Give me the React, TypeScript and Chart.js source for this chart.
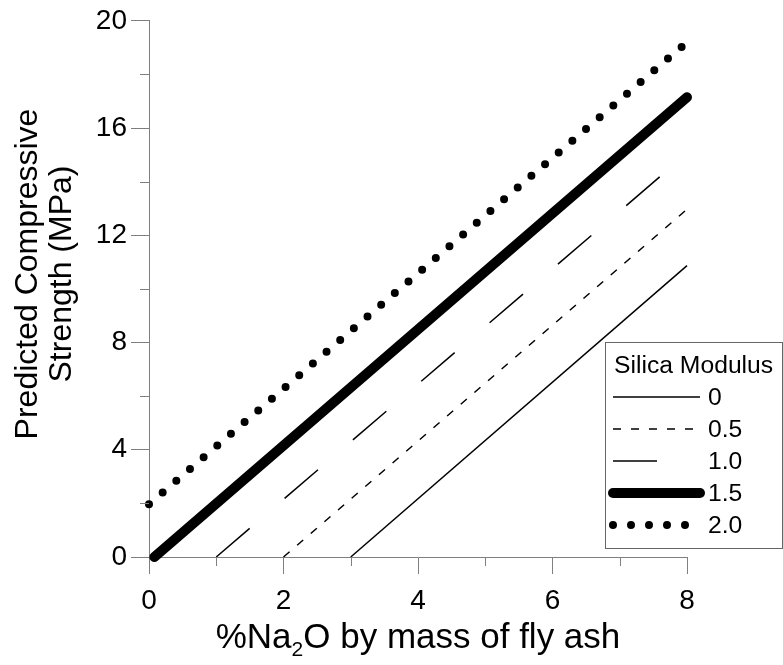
import React, { useEffect, useRef } from "react";
import { Chart, registerables } from "chart.js";

Chart.register(...registerables);

// Silica modulus series and the straight prediction lines for each
const modulusLabels = ["0", "0.5", "1.0", "1.5", "2.0"];
const naStart = [3, 2, 1, 0.08, 0];
const naEnd = [8, 8, 8, 8, 8];
const strengthStart = [0, 0, 0, 0, 1.97];
const strengthEnd = [10.87, 12.97, 15.05, 17.15, 19.2];

// Axis ticks
const xMajorTicks = [0, 2, 4, 6, 8];
const xMinorTicks = [1, 3, 5, 7];
const yMajorTicks = [0, 4, 8, 12, 16, 20];
const yMinorTicks = [2, 6, 10, 14, 18];

const yTitleLines = ["Predicted Compressive", "Strength (MPa)"];
const legendTitle = "Silica Modulus";

const FONT = "'Liberation Sans', Arial, sans-serif";
const AXIS_GRAY = "#7f7f7f";

const lineWidths = [1.5, 1.5, 1.5, 10, 8];
const lineDashes: number[][] = [[], [8, 10], [44, 46], [], [0, 18]];
const lineCaps: CanvasLineCap[] = ["butt", "butt", "butt", "round", "round"];

const minorTicksPlugin = {
  id: "minorTicks",
  afterDraw(chart: any) {
    const { ctx, chartArea, scales } = chart;
    ctx.save();
    ctx.strokeStyle = AXIS_GRAY;
    ctx.lineWidth = 1;
    ctx.beginPath();
    for (const v of xMinorTicks) {
      const px = Math.round(scales.x.getPixelForValue(v)) + 0.5;
      ctx.moveTo(px, chartArea.bottom);
      ctx.lineTo(px, chartArea.bottom + 9);
    }
    for (const v of yMinorTicks) {
      const py = Math.round(scales.y.getPixelForValue(v)) + 0.5;
      ctx.moveTo(chartArea.left, py);
      ctx.lineTo(chartArea.left - 9, py);
    }
    ctx.stroke();
    ctx.restore();
  },
};

// Axis titles: the x title carries a subscript, the y title sits in two rotated lines
const axisTitlesPlugin = {
  id: "axisTitles",
  afterDraw(chart: any) {
    const { ctx, chartArea } = chart;
    const big = `35px ${FONT}`;
    const small = `21px ${FONT}`;
    const parts = [
      { t: "%Na", f: big, dy: 0 },
      { t: "2", f: small, dy: 8 },
      { t: "O by mass of fly ash", f: big, dy: 0 },
    ];
    ctx.save();
    let total = 0;
    for (const p of parts) {
      ctx.font = p.f;
      total += ctx.measureText(p.t).width;
    }
    let x = (chartArea.left + chartArea.right) / 2 - total / 2;
    const baseY = 648;
    ctx.fillStyle = "#000";
    ctx.textBaseline = "alphabetic";
    ctx.textAlign = "left";
    for (const p of parts) {
      ctx.font = p.f;
      ctx.fillText(p.t, x, baseY + p.dy);
      x += ctx.measureText(p.t).width;
    }
    ctx.restore();

    ctx.save();
    ctx.fillStyle = "#000";
    ctx.font = `32px ${FONT}`;
    ctx.textAlign = "center";
    ctx.textBaseline = "middle";
    const centerY = 274;
    const lineX = [28, 62.5];
    yTitleLines.forEach((line, i) => {
      ctx.save();
      ctx.translate(lineX[i], centerY);
      ctx.rotate(-Math.PI / 2);
      ctx.fillText(line, 0, 0);
      ctx.restore();
    });
    ctx.restore();
  },
};

const legendPlugin = {
  id: "boxLegend",
  afterDraw(chart: any) {
    const { ctx } = chart;
    const left = 605.5;
    const top = 342.5;
    const right = 782.5;
    const bottom = 548.5;
    ctx.save();
    ctx.fillStyle = "#fff";
    ctx.fillRect(left, top, right - left, bottom - top);
    ctx.strokeStyle = "#666";
    ctx.lineWidth = 1;
    ctx.strokeRect(left, top, right - left, bottom - top);

    ctx.fillStyle = "#000";
    ctx.font = `24.7px ${FONT}`;
    ctx.textAlign = "left";
    ctx.textBaseline = "alphabetic";
    ctx.fillText(legendTitle, 614, 373);

    chart.data.datasets.forEach((ds: any, i: number) => {
      const y = 397 + i * 32;
      ctx.save();
      ctx.strokeStyle = ds.borderColor;
      ctx.lineWidth = ds.borderWidth;
      ctx.lineCap = ds.borderCapStyle;
      ctx.setLineDash(ds.borderDash || []);
      ctx.beginPath();
      ctx.moveTo(613, y);
      ctx.lineTo(700, y);
      ctx.stroke();
      ctx.restore();
      ctx.fillStyle = "#000";
      ctx.font = `24.7px ${FONT}`;
      ctx.textBaseline = "middle";
      ctx.fillText(ds.label, 708, y + 1);
    });
    ctx.restore();
  },
};

export default function App() {
  const canvasRef = useRef<HTMLCanvasElement | null>(null);

  useEffect(() => {
    if (!canvasRef.current) return;
    const datasets = modulusLabels.map((label, i) => ({
      label,
      data: [
        { x: naStart[i], y: strengthStart[i] },
        { x: naEnd[i], y: strengthEnd[i] },
      ],
      borderColor: "#000",
      backgroundColor: "#000",
      borderWidth: lineWidths[i],
      borderDash: lineDashes[i],
      borderCapStyle: lineCaps[i],
      pointRadius: 0,
      fill: false,
      tension: 0,
      clip: false as any,
    }));

    const chart = new Chart(canvasRef.current, {
      type: "line",
      data: { datasets },
      plugins: [minorTicksPlugin, axisTitlesPlugin, legendPlugin],
      options: {
        animation: false,
        responsive: false,
        layout: { padding: { top: 18, right: 96, bottom: 0, left: 0 } },
        plugins: {
          legend: { display: false },
          tooltip: { enabled: false },
        },
        scales: {
          x: {
            type: "linear",
            min: 0,
            max: 8,
            afterBuildTicks: (scale: any) => {
              scale.ticks = xMajorTicks.map((v) => ({ value: v }));
            },
            afterFit: (scale: any) => {
              scale.height = 108;
            },
            grid: {
              display: true,
              drawOnChartArea: false,
              drawTicks: true,
              tickLength: 17,
              color: AXIS_GRAY,
              lineWidth: 1,
            },
            border: { display: true, color: AXIS_GRAY, width: 1 },
            ticks: {
              color: "#000",
              font: { family: FONT, size: 28 },
              padding: 10,
              maxRotation: 0,
              autoSkip: false,
            },
          },
          y: {
            type: "linear",
            min: 0,
            max: 20,
            afterBuildTicks: (scale: any) => {
              scale.ticks = yMajorTicks.map((v) => ({ value: v }));
            },
            afterFit: (scale: any) => {
              scale.width = 149;
            },
            grid: {
              display: true,
              drawOnChartArea: false,
              drawTicks: true,
              tickLength: 18,
              color: AXIS_GRAY,
              lineWidth: 1,
            },
            border: { display: true, color: AXIS_GRAY, width: 1 },
            ticks: {
              color: "#000",
              font: { family: FONT, size: 28 },
              padding: 4,
              autoSkip: false,
            },
          },
        },
      },
    });
    return () => chart.destroy();
  }, []);

  return (
    <div style={{ position: "absolute", left: 0, top: 0, width: 783, height: 665 }}>
      <canvas ref={canvasRef} width={783} height={665} style={{ display: "block" }} />
    </div>
  );
}
